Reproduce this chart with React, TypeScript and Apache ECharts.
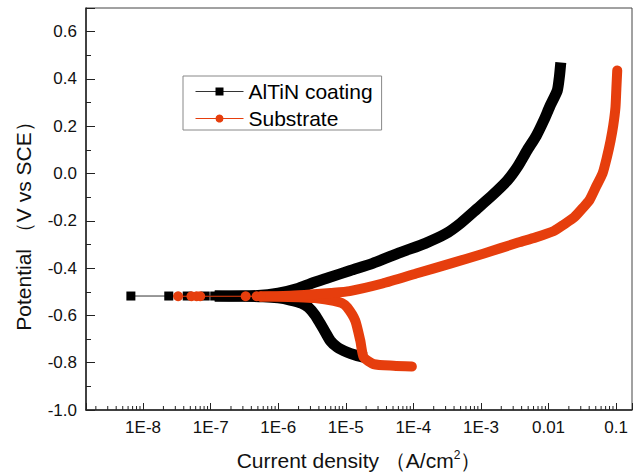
import React, { useEffect, useRef } from "react";
import * as echarts from "echarts";

// ---- Data (current density A/cm², potential V vs SCE) ----
const coatingSparseI = [6.6e-9, 2.4e-8, 4.5e-8, 8.3e-8, 1.15e-7];
const coatingSparseE = [-0.518, -0.518, -0.518, -0.518, -0.518];

const coatingCathodicI = [1.15e-7, 3e-7, 6e-7, 1.0e-6, 1.5e-6, 2.2e-6, 2.8e-6, 3.5e-6, 4.2e-6, 5.0e-6, 5.9e-6, 7.5e-6, 1.05e-5, 1.4e-5, 2.0e-5];
const coatingCathodicE = [-0.518, -0.519, -0.521, -0.526, -0.535, -0.548, -0.566, -0.598, -0.635, -0.672, -0.707, -0.735, -0.756, -0.768, -0.779];

const coatingAnodicI = [1.15e-7, 5e-7, 1.0e-6, 2.0e-6, 3.0e-6, 5.5e-6, 1.17e-5, 2.5e-5, 6.5e-5, 1.5e-4, 3.0e-4, 5e-4, 8.7e-4, 1.5e-3, 2.45e-3, 3.5e-3, 4.8e-3, 6.6e-3, 8.5e-3, 1.05e-2, 1.35e-2, 1.45e-2, 1.52e-2];
const coatingAnodicE = [-0.518, -0.516, -0.506, -0.485, -0.466, -0.441, -0.41, -0.38, -0.333, -0.295, -0.255, -0.21, -0.15, -0.09, -0.03, 0.03, 0.097, 0.16, 0.224, 0.285, 0.351, 0.41, 0.47];

const substrateSparseI = [3.3e-8, 5.2e-8, 6.2e-8, 7.0e-8, 3.3e-7, 4.8e-7, 5.5e-7];
const substrateSparseE = [-0.519, -0.519, -0.519, -0.519, -0.519, -0.519, -0.52];

const substrateCathodicI = [5.5e-7, 1e-6, 2e-6, 3.5e-6, 6.6e-6, 8.7e-6, 1.05e-5, 1.38e-5, 1.64e-5, 1.84e-5, 2.58e-5, 5.1e-5, 9.5e-5];
const substrateCathodicE = [-0.52, -0.521, -0.523, -0.527, -0.538, -0.548, -0.566, -0.622, -0.707, -0.777, -0.806, -0.813, -0.816];

const substrateAnodicI = [5.5e-7, 1.5e-6, 3e-6, 6e-6, 1.14e-5, 3.5e-5, 1.1e-4, 3.5e-4, 1.08e-3, 3.55e-3, 6.46e-3, 1.2e-2, 1.7e-2, 2.4e-2, 3.2e-2, 4e-2, 5e-2, 6.3e-2, 7.3e-2, 8.3e-2, 9.1e-2, 9.8e-2, 0.101, 0.104];
const substrateAnodicE = [-0.52, -0.517, -0.512, -0.505, -0.497, -0.465, -0.423, -0.381, -0.339, -0.292, -0.27, -0.243, -0.215, -0.185, -0.146, -0.114, -0.058, 0.0, 0.068, 0.14, 0.205, 0.281, 0.36, 0.436];

const seriesNames = ["AlTiN coating", "Substrate"];
const xTickLabels: Record<string, string> = {
  "-8": "1E-8", "-7": "1E-7", "-6": "1E-6", "-5": "1E-5",
  "-4": "1E-4", "-3": "1E-3", "-2": "0.01", "-1": "0.1",
};
const xMin = 1.43e-9;
const xMax = 0.172;
const yMin = -1.0;
const yMax = 0.7;

const RED = "#E63E0D";
const FONT = "'Liberation Sans', Arial, sans-serif";

const zip = (a: number[], b: number[]) => a.map((v, i) => [v, b[i]]);

// minor tick positions for the log axis (2..9 × 10^k)
const minorTicks: number[] = [];
for (let k = -10; k <= 0; k++) {
  for (let m = 2; m <= 9; m++) {
    const v = m * Math.pow(10, k);
    if (v > xMin && v < xMax) minorTicks.push(v);
  }
}

export default function App() {
  const ref = useRef<HTMLDivElement>(null);
  useEffect(() => {
    if (!ref.current) return;
    const chart = echarts.init(ref.current, null, { renderer: "svg" });
    const option: any = {
      animation: false,
      backgroundColor: "#fff",
      textStyle: { fontFamily: FONT },
      grid: {
        left: 86, top: 8, right: 4, bottom: 63,
        outerBoundsMode: "none", containLabel: false,
        show: true, borderColor: "#444", borderWidth: 1, backgroundColor: "transparent",
      },
      legend: {
        data: seriesNames,
        orient: "vertical",
        left: 183, top: 76,
        backgroundColor: "#fff",
        borderColor: "#888", borderWidth: 1,
        padding: [5, 9, 1, 12],
        itemGap: 6,
        itemWidth: 48, itemHeight: 10,
        lineStyle: { width: 1 },
        textStyle: { fontSize: 21, color: "#000", fontFamily: FONT },
      },
      xAxis: {
        type: "log", logBase: 10, min: xMin, max: xMax,
        name: "Current density （A/cm{sup|2}）",
        nameLocation: "middle", nameGap: 39,
        nameTextStyle: {
          fontSize: 21, lineHeight: 22, color: "#111", fontFamily: FONT,
          rich: { sup: { fontSize: 12, lineHeight: 22, verticalAlign: "top", fontFamily: FONT, color: "#111" } },
        },
        axisLine: { show: true, onZero: false, lineStyle: { color: "#222", width: 1.5 } },
        axisTick: { show: true, inside: true, length: 7, lineStyle: { color: "#222", width: 1 } },
        axisLabel: {
          fontSize: 17, color: "#111", margin: 9, fontFamily: FONT,
          formatter: (v: number) => {
            const l = Math.log10(v);
            const r = Math.round(l);
            if (Math.abs(l - r) > 1e-6) return "";
            return xTickLabels[String(r)] || "";
          },
        },
        splitLine: { show: false },
      },
      yAxis: {
        type: "value", min: yMin, max: yMax, interval: 0.2,
        name: "Potential （V vs SCE）",
        nameLocation: "middle", nameGap: 52,
        nameTextStyle: { fontSize: 21, color: "#111", fontFamily: FONT, padding: [0, 24, 0, 0] },
        axisLine: { show: true, onZero: false, lineStyle: { color: "#222", width: 1.5 } },
        axisTick: { show: true, inside: true, length: 9, lineStyle: { color: "#222", width: 1 } },
        minorTick: { show: true, splitNumber: 2, length: 5, lineStyle: { color: "#222", width: 1 } },
        axisLabel: {
          fontSize: 17, color: "#111", margin: 9, fontFamily: FONT,
          formatter: (v: number) => {
            const q = v / 0.2;
            if (Math.abs(q - Math.round(q)) > 1e-6) return "";
            return (Math.abs(v) < 1e-9 ? 0 : v).toFixed(1);
          },
        },
        splitLine: { show: false },
      },
      series: [
        {
          name: seriesNames[0], type: "line", data: zip(coatingSparseI, coatingSparseE),
          symbol: "rect", symbolSize: 9, showAllSymbol: true,
          itemStyle: { color: "#000" }, lineStyle: { color: "#333", width: 1 }, z: 2,
        },
        {
          name: seriesNames[0], type: "line", data: zip(coatingCathodicI, coatingCathodicE),
          symbol: "none", smooth: 0.2,
          itemStyle: { color: "#000" }, lineStyle: { color: "#000", width: 11, join: "round" }, z: 2,
        },
        {
          name: seriesNames[0], type: "line", data: zip(coatingAnodicI, coatingAnodicE),
          symbol: "none", smooth: 0.2,
          itemStyle: { color: "#000" }, lineStyle: { color: "#000", width: 11, join: "round" }, z: 2,
        },
        {
          name: seriesNames[1], type: "line", data: zip(substrateSparseI, substrateSparseE),
          symbol: "circle", symbolSize: 10, showAllSymbol: true,
          itemStyle: { color: RED }, lineStyle: { color: RED, width: 1 }, z: 3,
        },
        {
          name: seriesNames[1], type: "line", data: zip(substrateCathodicI, substrateCathodicE),
          symbol: "none", smooth: 0.2,
          itemStyle: { color: RED }, lineStyle: { color: RED, width: 10, cap: "round", join: "round" }, z: 3,
        },
        {
          name: seriesNames[1], type: "line", data: zip(substrateAnodicI, substrateAnodicE),
          symbol: "none", smooth: 0.2,
          itemStyle: { color: RED }, lineStyle: { color: RED, width: 10, cap: "round", join: "round" }, z: 3,
        },
        {
          name: "minorTicks", type: "custom", silent: true, clip: false, z: 5,
          data: minorTicks.map((v) => [v, yMin]),
          renderItem: (params: any, api: any) => {
            const p = api.coord([api.value(0), api.value(1)]);
            return {
              type: "line",
              shape: { x1: p[0], y1: p[1], x2: p[0], y2: p[1] - 4 },
              style: { stroke: "#222", lineWidth: 1 },
            };
          },
        },
      ],
    };
    chart.setOption(option);
    return () => chart.dispose();
  }, []);
  return <div ref={ref} style={{ position: "fixed", left: 0, top: 0, width: 636, height: 473 }} />;
}
